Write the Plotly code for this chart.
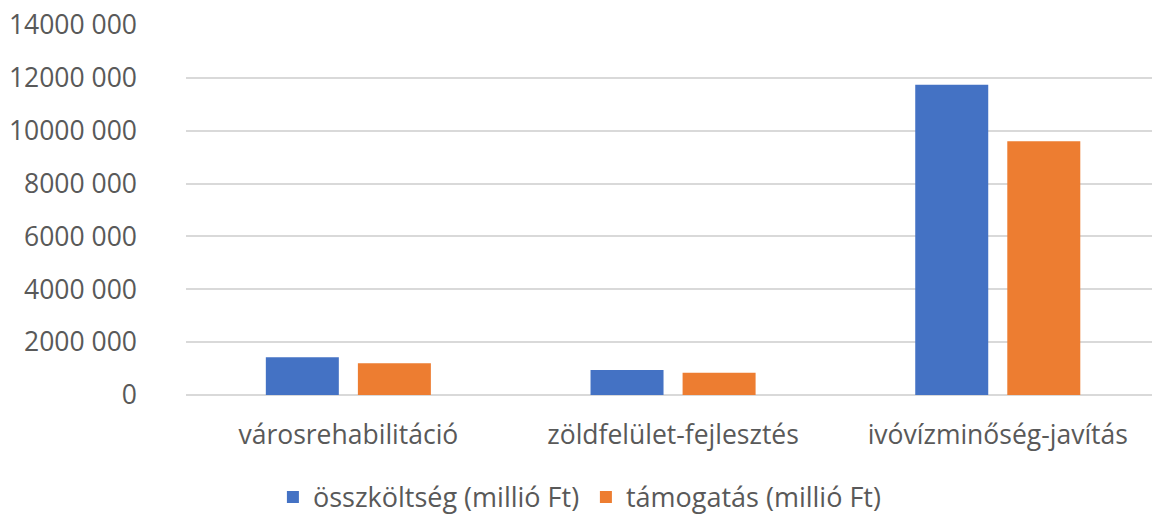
import plotly.graph_objects as go

# Projekttípusok és értékek
categories = ["városrehabilitáció", "zöldfelület-fejlesztés", "ivóvízminőség-javítás"]
osszkoltseg = [1430000, 950000, 11740000]
tamogatas = [1200000, 840000, 9600000]
series_names = ["összköltség (millió Ft)", "támogatás (millió Ft)"]

tick_vals = [0, 2000000, 4000000, 6000000, 8000000, 10000000, 12000000, 14000000]
tick_text = ["0", "2000 000", "4000 000", "6000 000", "8000 000",
             "10000 000", "12000 000", "14000 000"]

BLUE = "#4472C4"
ORANGE = "#ED7D31"
TEXT = "#595959"
GRID = "#D9D9D9"
FONT = "Open Sans"

fig = go.Figure()
fig.add_trace(go.Bar(x=categories, y=osszkoltseg, name=series_names[0],
                     marker=dict(color=BLUE, line=dict(width=0))))
fig.add_trace(go.Bar(x=categories, y=tamogatas, name=series_names[1],
                     marker=dict(color=ORANGE, line=dict(width=0))))

fig.update_layout(
    width=1152, height=517,
    margin=dict(l=186, r=0, t=25, b=122),
    paper_bgcolor="white", plot_bgcolor="white",
    barmode="group", bargap=0.433, bargroupgap=0.207,
    font=dict(family=FONT, color=TEXT, size=26.5),
    showlegend=True,
    legend=dict(orientation="h", xref="container", yref="container",
                x=0.5086, y=0.038, xanchor="center", yanchor="middle",
                font=dict(size=27, color=TEXT), itemwidth=30,
                entrywidth=268, entrywidthmode="pixels",
                traceorder="normal"),
)
fig.update_xaxes(range=[-0.5, 2.475], showgrid=False, showline=False,
                 ticks="", ticklabelstandoff=21,
                 tickfont=dict(size=26.5, color=TEXT))
fig.update_yaxes(range=[0, 14000000], tickvals=tick_vals, ticktext=tick_text,
                 showgrid=True, gridcolor=GRID, gridwidth=2,
                 zeroline=True, zerolinecolor=GRID, zerolinewidth=2,
                 showline=False, ticks="", ticklabelstandoff=48,
                 tickfont=dict(size=26.5, color=TEXT))

fig.write_html("out.html")
